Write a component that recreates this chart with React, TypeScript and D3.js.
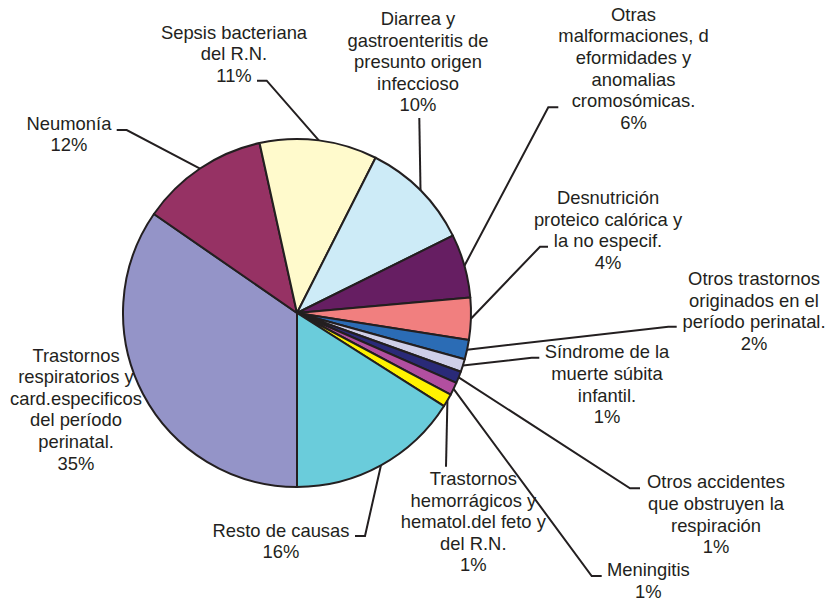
import React from "react";
import * as d3 from "d3";

// ---- data ----
const categories = [
  "Trastornos respiratorios y card.especificos del período perinatal.",
  "Neumonía",
  "Sepsis bacteriana del R.N.",
  "Diarrea y gastroenteritis de presunto origen infeccioso",
  "Otras malformaciones, deformidades y anomalias cromosómicas.",
  "Desnutrición proteico calórica y la no especif.",
  "Otros trastornos originados en el período perinatal.",
  "Síndrome de la muerte súbita infantil.",
  "Otros accidentes que obstruyen la respiración",
  "Meningitis",
  "Trastornos hemorrágicos y hematol.del feto y del R.N.",
  "Resto de causas",
];
const values = [34.6, 11.9, 10.9, 10.2, 5.9, 3.9, 1.8, 1.2, 1.1, 1.2, 1.2, 16.0];
const percentLabels = ["35%", "12%", "11%", "10%", "6%", "4%", "2%", "1%", "1%", "1%", "1%", "16%"];
const labelLines = [
  ["Trastornos", "respiratorios y", "card.especificos", "del período", "perinatal."],
  ["Neumonía"],
  ["Sepsis bacteriana", "del R.N."],
  ["Diarrea y", "gastroenteritis de", "presunto origen", "infeccioso"],
  ["Otras", "malformaciones, d", "eformidades y", "anomalias", "cromosómicas."],
  ["Desnutrición", "proteico calórica y", "la no especif."],
  ["Otros trastornos", "originados en el", "período perinatal."],
  ["Síndrome de la", "muerte súbita", "infantil."],
  ["Otros accidentes", "que obstruyen la", "respiración"],
  ["Meningitis"],
  ["Trastornos", "hemorrágicos y", "hematol.del feto y", "del R.N."],
  ["Resto de causas"],
];
const colors = [
  "#9494C8", "#963264", "#FFFACC", "#CDEBF7", "#661E62", "#F17F7F",
  "#2B6CB5", "#CFCFE8", "#2A2A78", "#B24FA0", "#FFF200", "#6ACCDB",
];

// ---- layout (label placement) ----
const labelCenter: [number, number][] = [
  [76, 361.5], [69, 129.5], [234, 38.5], [418, 25], [633.5, 20.7], [608, 204],
  [754, 285], [607, 358.3], [716, 488.3], [648.3, 576], [473.3, 485], [281, 536.5],
];
// leader: [labelEndX, labelEndY, elbowX, elbowY] or null
const leaders: ([number, number, number, number] | null)[] = [
  null,
  [116.7, 130, 126.7, 130],
  [257, 80.7, 266.7, 80.7],
  [419.3, 118, 419.3, 118],
  [558.3, 107.3, 548.3, 107.3],
  [548, 246.7, 540, 246.7],
  [676.7, 326.7, 668.3, 326.7],
  [539.3, 357.7, 531.7, 357.7],
  [640, 488.3, 630, 488.3],
  [601.7, 576, 591.7, 576],
  [446, 466.7, 446, 466.7],
  [355, 536, 365, 536],
];

const W = 828, H = 601;
const cx = 297, cy = 313, R = 174;
const LH = 21.6;
const INK = "#231F20";

export default function App() {
  const pie = d3.pie<number>().sort(null).value((d) => d)
    .startAngle(Math.PI).endAngle(3 * Math.PI);
  const arcs = pie(values);
  const arc = d3.arc<d3.PieArcDatum<number>>().innerRadius(0).outerRadius(R);

  return (
    <svg width={W} height={H} style={{ position: "absolute", left: 0, top: 0, background: "#fff" }}>
      <g transform={`translate(${cx},${cy})`}>
        {arcs.map((a, i) => (
          <path key={i} d={arc(a) || ""} fill={colors[i]} stroke={INK} strokeWidth={2} strokeLinejoin="round" />
        ))}
      </g>
      {arcs.map((a, i) => {
        const l = leaders[i];
        if (!l) return null;
        const mid = (a.startAngle + a.endAngle) / 2;
        const px = cx + R * Math.sin(mid);
        const py = cy - R * Math.cos(mid);
        const line = d3.line()([[l[0], l[1]], [l[2], l[3]], [px, py]]);
        return <path key={"l" + i} d={line || ""} fill="none" stroke={INK} strokeWidth={2} />;
      })}
      {labelLines.map((lines, i) => {
        const [x, y] = labelCenter[i];
        const all = [...lines, percentLabels[i]];
        return (
          <text key={"t" + i} x={x} y={y} textAnchor="middle" fill={INK}
            style={{ fontFamily: "'Liberation Sans', Arial, sans-serif", fontSize: "18.4px" }}>
            {all.map((s, j) => (
              <tspan key={j} x={x} y={y + j * LH}>{s}</tspan>
            ))}
          </text>
        );
      })}
    </svg>
  );
}
